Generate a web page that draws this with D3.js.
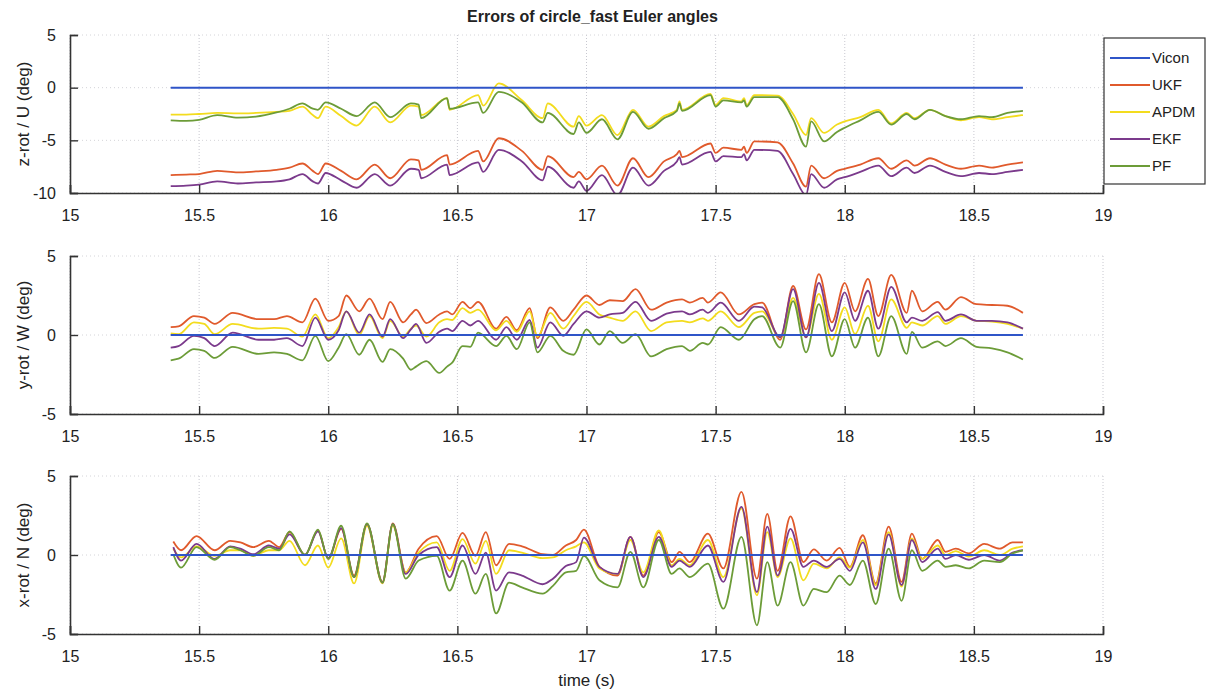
<!DOCTYPE html>
<html>
<head>
<meta charset="utf-8">
<script src="https://cdn.jsdelivr.net/npm/d3@7/dist/d3.min.js"></script>
<style>
  html, body { margin: 0; padding: 0; background: #ffffff; }
  svg { display: block; }
  text { font-family: "Liberation Sans", Arial, Helvetica, sans-serif; fill: #222; }
</style>
</head>
<body>
<svg id="chart" width="1209" height="696"></svg>
<script>
// ---- series names, colours and axis ticks ----
const seriesNames = ["Vicon", "UKF", "APDM", "EKF", "PF"];
const seriesColors = ["#2f55c8", "#e05a2c", "#f3dc1e", "#7b3a8c", "#6c9c38"];
const xTicks = [15, 15.5, 16, 16.5, 17, 17.5, 18, 18.5, 19];
const panelTitles = ["z-rot / U (deg)", "y-rot / W (deg)", "x-rot / N (deg)"];
const yDomains = [[-10, 5], [-5, 5], [-5, 5]];
const yTicks = [[-10, -5, 0, 5], [-5, 0, 5], [-5, 0, 5]];

// Vicon reference span (zero error)
const viconTime = [15.39, 18.69];
const viconValue = [0, 0];

// ---- z-rot / U ----
const time1 = [15.39, 15.45, 15.50, 15.57, 15.65, 15.72, 15.80, 15.85, 15.90, 15.94, 15.96, 15.99, 16.05, 16.11, 16.18, 16.24, 16.32, 16.35, 16.36, 16.46, 16.47, 16.58, 16.60, 16.66, 16.75, 16.83, 16.85, 16.95, 16.97, 17.00, 17.06, 17.12, 17.18, 17.24, 17.30, 17.35, 17.36, 17.37, 17.48, 17.50, 17.53, 17.60, 17.61, 17.62, 17.65, 17.74, 17.80, 17.85, 17.87, 17.92, 17.97, 18.00, 18.06, 18.13, 18.18, 18.24, 18.27, 18.33, 18.39, 18.45, 18.52, 18.57, 18.63, 18.69];
const ukf1  = [-8.3, -8.25, -8.2, -7.9, -8.05, -7.95, -7.8, -7.6, -7.2, -7.9, -8.2, -7.2, -7.9, -8.7, -7.3, -8.6, -6.8, -6.9, -7.8, -6.4, -7.3, -6.0, -7.0, -4.8, -6.0, -7.8, -6.5, -8.5, -8.0, -8.7, -7.4, -9.3, -6.7, -8.5, -7.0, -6.3, -6.0, -6.6, -5.3, -6.2, -5.7, -5.9, -5.6, -6.2, -5.1, -5.2, -7.2, -9.4, -7.4, -8.6, -7.9, -7.7, -7.3, -6.7, -7.7, -6.9, -7.4, -6.7, -7.3, -7.7, -7.4, -7.6, -7.3, -7.1];
const apdm1 = [-2.55, -2.55, -2.5, -2.4, -2.45, -2.4, -2.3, -2.2, -1.8, -2.6, -2.9, -1.8, -2.7, -3.6, -1.8, -3.3, -1.7, -1.8, -2.6, -1.0, -2.1, -0.7, -1.7, 0.4, -1.2, -2.9, -1.5, -3.7, -2.7, -3.6, -2.6, -4.5, -2.1, -3.7, -2.7, -2.1, -1.3, -2.1, -0.6, -1.65, -1.0, -1.3, -1.0, -1.65, -0.7, -0.75, -2.5, -4.5, -2.9, -4.3, -3.5, -3.2, -2.8, -2.1, -3.4, -2.4, -2.9, -2.1, -2.7, -3.1, -2.8, -3.0, -2.8, -2.6];
const ekf1  = [-9.35, -9.3, -9.2, -8.9, -9.1, -9.0, -8.9, -8.7, -8.2, -8.9, -9.1, -8.1, -8.8, -9.5, -8.2, -9.3, -7.7, -7.8, -8.6, -7.3, -8.3, -7.1, -8.0, -5.9, -7.0, -8.8, -7.5, -9.5, -8.9, -9.8, -8.3, -10.2, -7.6, -9.3, -7.9, -7.0, -6.6, -7.3, -6.1, -7.0, -6.5, -6.6, -6.3, -6.9, -5.9, -6.0, -8.2, -10.2, -8.2, -9.5, -8.7, -8.5, -8.0, -7.4, -8.4, -7.6, -8.1, -7.4, -8.0, -8.4, -8.1, -8.2, -8.0, -7.8];
const pf1   = [-3.1, -3.15, -3.05, -2.6, -2.85, -2.75, -2.35, -2.0, -1.5, -2.0, -2.1, -1.4, -2.0, -2.7, -1.4, -2.8, -1.5, -1.6, -2.9, -1.0, -2.0, -1.4, -2.4, -0.4, -1.4, -3.3, -2.4, -4.4, -3.3, -4.3, -3.0, -4.9, -2.3, -3.9, -2.9, -2.2, -1.5, -2.2, -0.7, -1.8, -1.2, -1.4, -1.2, -1.8, -0.9, -0.9, -3.0, -5.6, -3.2, -5.1, -4.2, -3.8, -3.1, -2.3, -3.5, -2.5, -3.0, -2.1, -2.7, -3.0, -2.7, -2.8, -2.4, -2.2];

// ---- y-rot / W ----
const time2 = [15.39, 15.42, 15.48, 15.52, 15.56, 15.63, 15.73, 15.79, 15.84, 15.90, 15.95, 16.00, 16.04, 16.07, 16.12, 16.16, 16.21, 16.24, 16.29, 16.32, 16.34, 16.38, 16.43, 16.46, 16.48, 16.52, 16.55, 16.58, 16.65, 16.69, 16.73, 16.78, 16.81, 16.86, 16.91, 16.95, 17.00, 17.05, 17.09, 17.14, 17.19, 17.25, 17.31, 17.37, 17.40, 17.45, 17.47, 17.52, 17.59, 17.65, 17.68, 17.75, 17.80, 17.85, 17.90, 17.95, 18.00, 18.04, 18.09, 18.13, 18.18, 18.24, 18.26, 18.30, 18.36, 18.39, 18.45, 18.51, 18.57, 18.63, 18.69];
const ukf2  = [0.5, 0.55, 1.2, 1.1, 0.7, 1.4, 1.0, 1.0, 1.2, 0.8, 2.3, 0.9, 1.2, 2.5, 1.5, 2.3, 1.0, 2.1, 0.8, 1.3, 1.6, 0.75, 1.3, 1.5, 1.3, 2.1, 1.7, 2.1, 0.4, 1.15, 0.3, 1.7, -0.2, 1.75, 0.9, 1.6, 2.5, 1.9, 2.2, 2.15, 2.9, 1.6, 2.05, 2.25, 2.05, 2.35, 2.05, 2.7, 1.3, 1.95, 2.05, -0.3, 3.1, 0.35, 3.85, 0.8, 3.3, 1.5, 3.55, 1.2, 3.8, 1.4, 2.8, 1.5, 2.1, 1.6, 2.4, 1.95, 1.9, 1.85, 1.4];
const apdm2 = [0.1, 0.05, 0.8, 0.7, 0.05, 0.7, 0.4, 0.45, 0.4, -0.1, 1.3, -0.2, 0.5, 1.5, 0.0, 1.2, -0.2, 0.9, -0.1, 0.4, 0.6, -0.1, 0.8, 1.0, 0.95, 1.7, 1.4, 1.6, 0.3, 0.9, 0.2, 1.5, -0.1, 1.4, 0.4, 1.2, 2.1, 1.3, 1.1, 0.9, 1.5, 0.25, 0.8, 0.9, 0.8, 1.05, 0.9, 1.5, 0.5, 1.4, 1.5, -0.15, 2.35, -0.15, 2.6, -0.3, 1.75, 0.05, 1.85, -0.4, 2.25, 0.45, 0.8, 0.6, 1.2, 0.7, 1.2, 0.9, 0.85, 0.7, 0.4];
const ekf2  = [-0.8, -0.7, -0.05, -0.2, -0.7, 0.15, -0.3, -0.3, -0.2, -0.7, 1.1, -0.3, 0.3, 1.5, 0.15, 1.3, -0.1, 1.0, -0.2, 0.35, 0.7, -0.5, 0.2, 0.4, 0.25, 0.9, 0.6, 0.9, -0.3, 0.5, -0.3, 0.95, -0.8, 0.8, -0.05, 0.7, 1.5, 1.1, 1.3, 1.4, 2.1, 0.9, 1.35, 1.5, 1.3, 1.6, 1.4, 2.05, 0.9, 1.8, 1.75, -0.15, 2.9, -0.15, 3.3, 0.25, 2.7, 0.9, 2.8, 0.4, 3.05, 0.8, 1.1, 0.9, 1.45, 0.9, 1.3, 0.9, 0.9, 0.8, 0.4];
const pf2   = [-1.6, -1.5, -0.9, -1.0, -1.45, -0.75, -1.2, -1.1, -1.2, -1.6, -0.05, -1.65, -0.8, 0.05, -1.25, -0.3, -1.7, -0.9, -1.5, -2.2, -2.0, -1.65, -2.4, -2.0, -1.75, -0.7, -0.75, 0.15, -0.7, -0.05, -0.9, 0.8, -1.1, -0.05, -1.0, -1.25, 0.35, -0.6, 0.25, -0.5, 0.05, -1.35, -0.9, -0.7, -1.0, -0.5, -0.6, 0.5, -0.3, 1.0, 1.2, -0.8, 2.15, -1.1, 1.95, -1.35, 1.0, -0.8, 1.1, -1.35, 1.2, -1.2, 0.2, -0.8, -0.4, -0.7, -0.2, -0.75, -0.85, -1.1, -1.55];

// ---- x-rot / N ----
const time3 = [15.40, 15.43, 15.49, 15.56, 15.62, 15.66, 15.71, 15.77, 15.81, 15.85, 15.91, 15.96, 16.00, 16.05, 16.10, 16.15, 16.21, 16.25, 16.30, 16.35, 16.42, 16.47, 16.52, 16.57, 16.61, 16.65, 16.70, 16.75, 16.83, 16.87, 16.92, 16.96, 16.99, 17.05, 17.12, 17.17, 17.22, 17.28, 17.33, 17.36, 17.40, 17.47, 17.53, 17.60, 17.66, 17.70, 17.74, 17.79, 17.84, 17.88, 17.93, 17.98, 18.02, 18.07, 18.12, 18.17, 18.22, 18.26, 18.30, 18.36, 18.39, 18.43, 18.48, 18.54, 18.60, 18.65, 18.69];
const ukf3  = [0.85, 0.3, 1.2, 0.3, 0.9, 0.8, 0.5, 0.9, 0.5, 1.45, 0.0, 1.55, -0.25, 1.65, -1.3, 1.95, -1.7, 2.0, -1.1, 0.4, 1.2, -0.25, 1.4, -0.05, 1.45, -0.65, 0.7, 0.55, 0.05, 0.0, 0.6, 0.95, 1.6, -0.75, -1.3, 1.15, -1.3, 1.45, -0.45, 0.2, -0.45, 1.35, -0.85, 4.0, -1.5, 2.6, -1.0, 2.45, -0.45, 0.35, -0.35, 0.45, -0.75, 1.25, -1.8, 1.8, -1.7, 1.35, -0.25, 0.95, 0.2, 0.4, 0.1, 0.7, 0.4, 0.8, 0.8];
const apdm3 = [0.4, -0.15, 0.55, -0.05, 0.3, 0.3, -0.05, 0.3, 0.3, 0.9, -0.65, 0.6, -0.8, 1.05, -1.8, 1.85, -1.8, 1.85, -1.1, 0.15, 0.8, -1.0, 1.0, -0.55, 0.9, -1.2, 0.3, 0.15, -0.2, -0.15, 0.3, 0.55, 0.8, -0.85, -1.2, 0.95, -1.1, 1.55, -0.65, -0.25, -0.65, 0.95, -1.4, 2.95, -2.55, 1.45, -1.4, 1.05, -1.6, -0.55, -0.85, -0.15, -0.8, 0.95, -1.9, 1.45, -2.0, 1.05, -0.25, 0.6, 0.0, 0.25, -0.1, 0.3, 0.0, 0.4, 0.55];
const ekf3  = [0.5, -0.35, 0.7, -0.25, 0.55, 0.4, 0.05, 0.6, 0.4, 1.3, 0.0, 1.5, -0.2, 1.7, -1.4, 1.95, -1.75, 1.95, -1.2, 0.0, 0.5, -1.4, 0.6, -1.2, 0.15, -2.25, -1.1, -1.3, -1.85, -1.5, -0.7, -0.45, 1.1, -0.75, -1.2, 1.15, -1.4, 1.15, -0.75, -0.35, -0.75, 0.6, -1.7, 3.05, -2.35, 1.8, -1.3, 1.65, -0.75, -0.35, -0.75, -0.25, -1.0, 0.8, -2.15, 1.3, -1.9, 0.95, -0.45, 0.4, -0.25, 0.0, -0.3, 0.0, -0.35, 0.15, 0.3];
const pf3   = [0.05, -0.8, 0.5, -0.3, 0.5, 0.3, -0.05, 0.5, 0.3, 1.5, 0.0, 1.6, -0.25, 1.85, -1.4, 2.0, -1.75, 1.95, -1.5, -0.35, -0.05, -2.25, -0.35, -2.45, -1.2, -3.7, -1.75, -2.05, -2.45, -1.95, -1.1, -1.0, -0.05, -1.6, -2.05, 0.2, -2.05, 0.95, -1.2, -0.85, -1.4, -0.55, -3.4, 1.15, -4.45, -0.45, -3.2, -0.45, -3.2, -2.15, -2.35, -1.3, -1.9, -0.35, -3.1, 0.4, -2.9, 0.3, -1.0, -0.35, -0.75, -0.65, -0.85, -0.35, -0.45, 0.1, 0.3];

const panels = [
  { time: time1, series: [ukf1, apdm1, ekf1, pf1] },
  { time: time2, series: [ukf2, apdm2, ekf2, pf2] },
  { time: time3, series: [ukf3, apdm3, ekf3, pf3] }
];

// ---- layout ----
const svg = d3.select("#chart");
const plotLeft = 70, plotRight = 1103;
const panelTops = [35, 256, 476];
const panelHeight = 158;

const x = d3.scaleLinear().domain([15, 19]).range([plotLeft, plotRight]);
const plainNumber = d => String(d);

svg.append("text")
  .attr("x", (plotLeft + plotRight) / 2 + 6)
  .attr("y", 22)
  .attr("text-anchor", "middle")
  .style("font-size", "16px")
  .style("font-weight", "bold")
  .text("Errors of circle_fast Euler angles");

const defs = svg.append("defs");

panels.forEach((panel, i) => {
  const top = panelTops[i];
  const bottom = top + panelHeight;
  const y = d3.scaleLinear().domain(yDomains[i]).range([bottom, top]);
  const g = svg.append("g");

  // dotted grid
  g.append("g").selectAll("line.vg").data(xTicks).join("line")
    .attr("x1", d => x(d)).attr("x2", d => x(d))
    .attr("y1", top).attr("y2", bottom)
    .attr("stroke", "#c8c8d0").attr("stroke-width", 1)
    .attr("stroke-dasharray", "1,2");
  g.append("g").selectAll("line.hg").data(yTicks[i]).join("line")
    .attr("x1", plotLeft).attr("x2", plotRight)
    .attr("y1", d => y(d)).attr("y2", d => y(d))
    .attr("stroke", "#d4d4d8").attr("stroke-width", 1)
    .attr("stroke-dasharray", "1,3");

  // clipping to the axes box
  const clipId = "clip" + i;
  defs.append("clipPath").attr("id", clipId)
    .append("rect").attr("x", plotLeft).attr("y", top)
    .attr("width", plotRight - plotLeft).attr("height", panelHeight);

  const lines = g.append("g").attr("clip-path", `url(#${clipId})`);
  const line = d3.line().x(d => x(d[0])).y(d => y(d[1])).curve(d3.curveMonotoneX);

  panel.series.forEach((vals, k) => {
    const pts = panel.time.map((t, j) => [t, vals[j]]);
    lines.append("path")
      .attr("d", line(pts))
      .attr("fill", "none")
      .attr("stroke", seriesColors[k + 1])
      .attr("stroke-width", 1.8)
      .attr("stroke-linejoin", "round");
  });
  lines.append("path")
    .attr("d", line(viconTime.map((t, j) => [t, viconValue[j]])))
    .attr("fill", "none")
    .attr("stroke", seriesColors[0])
    .attr("stroke-width", 2);

  // axes with inward ticks
  const xAxis = d3.axisBottom(x).tickValues(xTicks).tickSize(-8).tickPadding(16)
    .tickFormat(plainNumber);
  const gx = g.append("g").attr("transform", `translate(0,${bottom})`).call(xAxis);
  const yAxis = d3.axisLeft(y).tickValues(yTicks[i]).tickSize(-8).tickPadding(14)
    .tickFormat(plainNumber);
  const gy = g.append("g").attr("transform", `translate(${plotLeft},0)`).call(yAxis);

  [gx, gy].forEach(a => {
    a.select(".domain").attr("stroke", "#333").attr("stroke-width", 1.6);
    a.selectAll(".tick line").attr("stroke", "#333").attr("stroke-width", 1.4);
    a.selectAll(".tick text").style("font-size", "16px").attr("fill", "#222");
  });
  gx.selectAll(".tick text").attr("dy", "0.75em");

  g.append("text")
    .attr("transform", `translate(23,${(top + bottom) / 2}) rotate(-90)`)
    .attr("text-anchor", "middle")
    .attr("dy", "0.35em")
    .style("font-size", "17px")
    .text(panelTitles[i]);
});

svg.append("text")
  .attr("x", x(17))
  .attr("y", 686)
  .attr("text-anchor", "middle")
  .style("font-size", "17px")
  .text("time (s)");

// ---- legend ----
const legend = svg.append("g").attr("transform", "translate(1104,38)");
legend.append("rect")
  .attr("width", 101).attr("height", 146)
  .attr("fill", "#fff").attr("stroke", "#333").attr("stroke-width", 1.2);
seriesNames.forEach((name, k) => {
  const ly = 20 + k * 27;
  legend.append("line")
    .attr("x1", 6).attr("x2", 46).attr("y1", ly).attr("y2", ly)
    .attr("stroke", seriesColors[k]).attr("stroke-width", 1.8);
  legend.append("text")
    .attr("x", 48).attr("y", ly).attr("dy", "0.35em")
    .style("font-size", "15px")
    .text(name);
});
</script>
</body>
</html>
